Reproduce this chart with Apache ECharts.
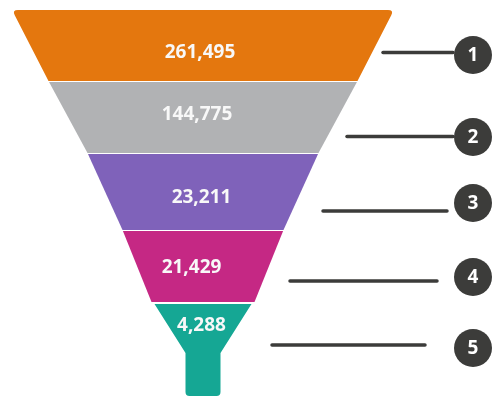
<!DOCTYPE html>
<html><head><meta charset="utf-8">
<script src="https://cdn.jsdelivr.net/npm/echarts@6/dist/echarts.min.js"></script>
<style>html,body{margin:0;padding:0;background:#fff}#c{width:492px;height:398px}</style>
</head><body><div id="c"></div>
<script>
// ---- data ----
const stages = ['1', '2', '3', '4', '5'];
const values = [261495, 144775, 23211, 21429, 4288];
const colors = ['#E4770E', '#B1B2B4', '#7F62BA', '#C52884', '#15A794'];

// ---- layout (in the hidden axes' units) ----
const CX = 203;
const bands = [[10, 81], [82, 153], [154, 230], [231, 302], [304, 396]];
const edge = [[10, 191], [81, 154.5], [153, 115.5], [230, 80.5], [302, 51.5], [304, 48.5], [353, 17.5], [396, 17.5]];
const labelPos = [[200, 53], [197, 115], [201.5, 198], [191.5, 268], [201.5, 326]];
const callLine = [[383, 453, 52.5], [347, 453, 136.5], [323, 447, 211], [290, 437, 281], [272, 425, 345]];
const callCircle = [[473, 55], [473, 137], [473, 203], [473, 277], [473, 348]];

function hw(y) {
  for (let k = 0; k < edge.length - 1; k++) {
    const a = edge[k], b = edge[k + 1];
    if (y >= a[0] && y <= b[0]) {
      if (b[0] === a[0]) return a[1];
      return a[1] + (b[1] - a[1]) * (y - a[0]) / (b[0] - a[0]);
    }
  }
  return edge[edge.length - 1][1];
}

function roundedPath(pts, radii) {
  const n = pts.length;
  let d = '';
  for (let i = 0; i < n; i++) {
    const p = pts[i], prev = pts[(i - 1 + n) % n], next = pts[(i + 1) % n];
    const r = radii[i] || 0;
    if (!r) {
      d += (i === 0 ? 'M' : 'L') + p[0] + ' ' + p[1] + ' ';
      continue;
    }
    const v1 = [prev[0] - p[0], prev[1] - p[1]], v2 = [next[0] - p[0], next[1] - p[1]];
    const l1 = Math.hypot(v1[0], v1[1]), l2 = Math.hypot(v2[0], v2[1]);
    const a = [p[0] + v1[0] / l1 * r, p[1] + v1[1] / l1 * r];
    const b = [p[0] + v2[0] / l2 * r, p[1] + v2[1] / l2 * r];
    d += (i === 0 ? 'M' : 'L') + a[0] + ' ' + a[1] + ' Q' + p[0] + ' ' + p[1] + ' ' + b[0] + ' ' + b[1] + ' ';
  }
  return d + 'Z';
}

const chart = echarts.init(document.getElementById('c'), null, { renderer: 'canvas' });

function stageItem(params, api) {
  const i = api.value(0);
  const v = api.value(1);
  const [y0, y1] = bands[i];
  const ys = [y0];
  edge.forEach(e => { if (e[0] > y0 && e[0] < y1) ys.push(e[0]); });
  ys.push(y1);
  const right = ys.map(y => api.coord([CX + hw(y), y]));
  const left = ys.slice().reverse().map(y => api.coord([CX - hw(y), y]));
  const pts = right.concat(left);
  const radii = pts.map(() => 0);
  if (i === 0) { radii[0] = 6; radii[pts.length - 1] = 6; }
  if (i === bands.length - 1) { radii[right.length - 1] = 4; radii[right.length] = 4; }
  const lp = api.coord(labelPos[i]);
  return {
    type: 'group',
    children: [
      { type: 'path', shape: { pathData: roundedPath(pts, radii) }, style: { fill: colors[i] } },
      { type: 'text', style: { text: v.toLocaleString('en-US'), x: lp[0], y: lp[1], fill: '#F8F8F8',
        font: 'bold 19px "Open Sans", sans-serif', align: 'center', verticalAlign: 'middle' } }
    ]
  };
}

function calloutItem(params, api) {
  const i = params.dataIndex;
  const l = callLine[i], c = callCircle[i];
  const p1 = api.coord([l[0], l[2]]), p2 = api.coord([l[1], l[2]]);
  const cc = api.coord(c);
  return {
    type: 'group',
    children: [
      { type: 'line', shape: { x1: p1[0], y1: p1[1], x2: p2[0], y2: p2[1] },
        style: { stroke: '#3C3C3A', lineWidth: 3.5, lineCap: 'round' } },
      { type: 'circle', shape: { cx: cc[0], cy: cc[1], r: 19 }, style: { fill: '#3C3C3A' } },
      { type: 'text', style: { text: stages[i], x: cc[0], y: cc[1] + 1, fill: '#FFFFFF',
        font: 'bold 19px "Open Sans", sans-serif', align: 'center', verticalAlign: 'middle' } }
    ]
  };
}

chart.setOption({
  animation: false,
  grid: { left: 0, right: 0, top: 0, bottom: 0 },
  xAxis: { type: 'value', min: 0, max: 492, show: false },
  yAxis: { type: 'value', min: 0, max: 398, inverse: true, show: false },
  series: [
    { type: 'custom', name: 'funnel', renderItem: stageItem, encode: { x: 0, y: 0 },
      data: values.map((v, i) => [i, v]) },
    { type: 'custom', name: 'callouts', renderItem: calloutItem, encode: { x: 0, y: 0 },
      data: stages.map((s, i) => [i]) }
  ]
});
</script>
</body></html>
